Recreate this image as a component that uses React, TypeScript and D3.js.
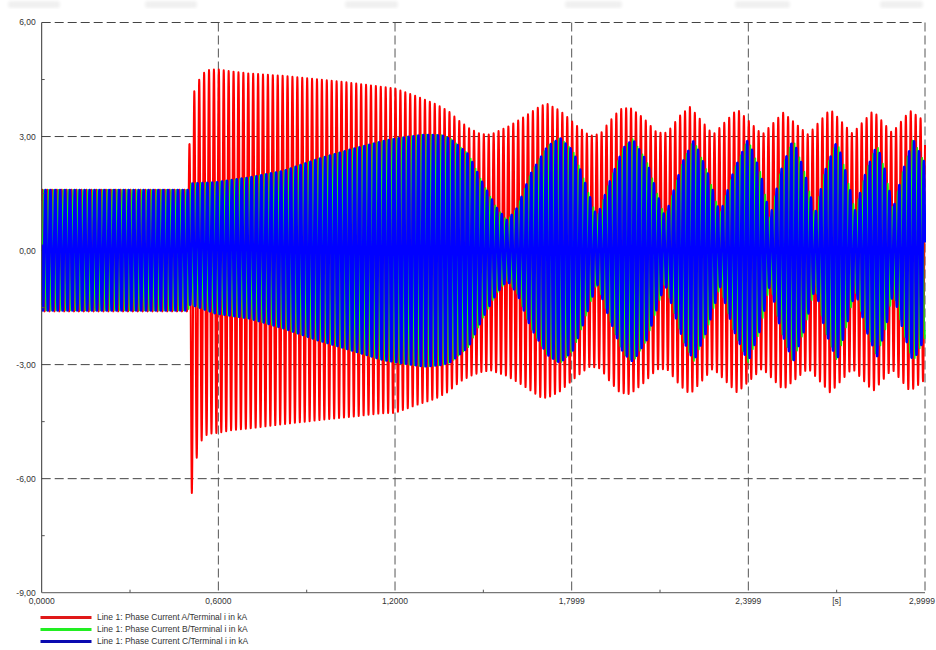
import React from "react";
import * as d3 from "d3";

const W = 936;
const H = 650;
const PLOT = { left: 41.7, right: 925, top: 22.5, bottom: 592.7 };

// axes
const yTicks = [6, 3, 0, -3, -6, -9];
const yTickLabels = ["6,00", "3,00", "0,00", "-3,00", "-6,00", "-9,00"];
const yMinor = [4.5, 1.5, -1.5, -4.5, -7.5];
const xTicks = [0, 0.6, 1.2, 1.8, 2.4, 3.0];
const xTickLabels = ["0,0000", "0,6000", "1,2000", "1,7999", "2,3999", "2,9999"];
const xMinor = [0.3, 0.9, 1.5, 2.1, 2.7];
const xUnitAt = 2.7;
const xUnitLabel = "[s]";

// series names / colours
const seriesNames = [
  "Line 1: Phase Current A/Terminal i in kA",
  "Line 1: Phase Current B/Terminal i in kA",
  "Line 1: Phase Current C/Terminal i in kA",
];
const seriesColors = ["#ff0000", "#11ee11", "#0000ff"];
const seriesWidths = [2.0, 1.5, 2.5];
const legendColors = ["#e01818", "#22ee22", "#0a0ab0"];

// 60 Hz carrier, phase reference (time of a phase-A peak, s)
const FREQ = 60;
const PEAK_REF_A = 0.5183;
const PHASE_SHIFT = [0, (-2 * Math.PI) / 3, (2 * Math.PI) / 3];

// Phase A envelopes (kA)
const envTimeA = [0, 0.495, 0.5016, 0.5095, 0.5183, 0.5266, 0.535, 0.543, 0.5516, 0.56, 0.57, 0.595, 0.65, 0.705, 0.816, 0.931, 1.043, 1.155, 1.2, 1.27, 1.336, 1.38, 1.42, 1.455, 1.49, 1.525, 1.581, 1.635, 1.693, 1.717, 1.761, 1.818, 1.862, 1.897, 1.93, 1.964, 1.998, 2.042, 2.09, 2.124, 2.168, 2.202, 2.28, 2.362, 2.447, 2.518, 2.603, 2.678, 2.753, 2.824, 2.888, 2.949, 3.0];
const envUpperA = [1.6, 1.6, 2.8, 3.6, 4.2, 4.35, 4.5, 4.6, 4.68, 4.72, 4.76, 4.77, 4.71, 4.66, 4.6, 4.51, 4.42, 4.31, 4.26, 4.07, 3.86, 3.68, 3.4, 3.2, 3.07, 3.05, 3.25, 3.5, 3.8, 3.86, 3.68, 3.28, 3.02, 3.07, 3.41, 3.72, 3.76, 3.5, 3.1, 3.1, 3.55, 3.78, 3.05, 3.72, 3.05, 3.63, 3.05, 3.72, 3.08, 3.68, 3.1, 3.68, 3.4];
const envLowerA = [-1.6, -1.6, -3.5, -6.4, -5.9, -5.45, -5.2, -5.0, -4.92, -4.85, -4.82, -4.8, -4.72, -4.68, -4.57, -4.47, -4.38, -4.28, -4.27, -4.07, -3.9, -3.72, -3.45, -3.3, -3.2, -3.15, -3.3, -3.55, -3.85, -3.88, -3.7, -3.3, -3.05, -3.1, -3.45, -3.74, -3.78, -3.5, -3.12, -3.12, -3.55, -3.78, -3.1, -3.74, -3.1, -3.66, -3.1, -3.74, -3.1, -3.7, -3.12, -3.7, -3.4];

// Phases B and C envelopes (kA)
const envTimeBC = [0, 0.497, 0.505, 0.59, 0.705, 0.82, 0.935, 1.05, 1.16, 1.22, 1.3, 1.36, 1.39, 1.45, 1.5, 1.545, 1.581, 1.615, 1.66, 1.718, 1.761, 1.805, 1.84, 1.886, 1.93, 1.975, 2.008, 2.055, 2.117, 2.178, 2.215, 2.26, 2.304, 2.35, 2.399, 2.44, 2.474, 2.51, 2.552, 2.59, 2.627, 2.66, 2.701, 2.73, 2.763, 2.8, 2.837, 2.865, 2.892, 2.925, 2.959, 3.0];
const envUpperBC = [1.6, 1.6, 1.77, 1.8, 1.93, 2.1, 2.41, 2.67, 2.89, 2.98, 3.06, 3.04, 2.94, 2.54, 1.75, 1.13, 0.79, 1.13, 2.02, 2.76, 2.97, 2.63, 1.92, 0.87, 1.84, 2.71, 2.94, 2.36, 0.87, 2.36, 2.92, 2.1, 0.95, 2.1, 2.94, 2.1, 0.87, 2.1, 2.94, 2.1, 0.95, 2.1, 2.9, 2.1, 1.05, 2.1, 2.8, 2.1, 1.1, 2.1, 2.94, 2.3];
const envLowerBC = [-1.58, -1.58, -1.42, -1.66, -1.79, -2.05, -2.36, -2.63, -2.89, -2.97, -3.06, -3.02, -2.94, -2.54, -1.75, -1.13, -0.79, -1.13, -2.02, -2.76, -2.97, -2.63, -1.92, -0.87, -1.84, -2.71, -2.94, -2.36, -0.87, -2.36, -2.92, -2.1, -0.95, -2.1, -2.94, -2.1, -0.87, -2.1, -2.94, -2.1, -0.95, -2.1, -2.9, -2.1, -1.05, -2.1, -2.8, -2.1, -1.1, -2.1, -2.94, -2.3];

const T_END = 3.0;
const SAMPLES_PER_CYCLE = 32;

function buildSeries(times: number[], upper: number[], lower: number[], shift: number) {
  const u = d3.scaleLinear().domain(times).range(upper).clamp(true);
  const l = d3.scaleLinear().domain(times).range(lower).clamp(true);
  const n = Math.round(T_END * FREQ * SAMPLES_PER_CYCLE);
  const pts: [number, number][] = [];
  for (let i = 0; i <= n; i++) {
    const t = (i / n) * T_END;
    const uu = u(t);
    const ll = l(t);
    const c = Math.cos(2 * Math.PI * FREQ * (t - PEAK_REF_A) + shift);
    pts.push([t, (uu + ll) / 2 + ((uu - ll) / 2) * c]);
  }
  return pts;
}

const topBlobs = [
  [8, 60],
  [145, 197],
  [345, 398],
  [565, 622],
  [735, 790],
  [880, 923],
];

export default function App() {
  const x = d3.scaleLinear().domain([0, 3.0]).range([PLOT.left, PLOT.right]);
  const y = d3.scaleLinear().domain([-9, 6]).range([PLOT.bottom, PLOT.top]);
  const line = d3
    .line<[number, number]>()
    .x((d) => x(d[0]))
    .y((d) => y(d[1]));

  const series = [
    buildSeries(envTimeA, envUpperA, envLowerA, PHASE_SHIFT[0]),
    buildSeries(envTimeBC, envUpperBC, envLowerBC, PHASE_SHIFT[1]),
    buildSeries(envTimeBC, envUpperBC, envLowerBC, PHASE_SHIFT[2]),
  ];

  const font = "'Liberation Sans', Arial, sans-serif";
  const dash = "9,4";

  return (
    <div style={{ position: "fixed", left: 0, top: 0 }}>
      <svg width={W} height={H} style={{ display: "block", background: "#fff" }}>
        <defs>
          <clipPath id="plotclip">
            <rect x={PLOT.left} y={PLOT.top - 1} width={PLOT.right - PLOT.left + 1} height={PLOT.bottom - PLOT.top + 1} />
          </clipPath>
          <filter id="blur">
            <feGaussianBlur stdDeviation="1.5" />
          </filter>
        </defs>
        {topBlobs.map((b, i) => (
          <rect key={i} x={b[0]} y={1} width={b[1] - b[0]} height={7} rx={3} fill="#f0f0f0" filter="url(#blur)" />
        ))}

        {/* grid */}
        {yTicks.filter((v) => v > -9).map((v) => (
          <line key={"gy" + v} x1={PLOT.left} x2={PLOT.right} y1={y(v)} y2={y(v)} stroke="#444" strokeWidth={1} strokeDasharray={dash} />
        ))}
        {xTicks.filter((v) => v > 0).map((v) => (
          <line key={"gx" + v} x1={x(v)} x2={x(v)} y1={PLOT.top} y2={PLOT.bottom} stroke="#555" strokeWidth={1} strokeDasharray={dash} />
        ))}

        {/* data */}
        <g clipPath="url(#plotclip)">
          {series.map((s, i) => (
            <path key={i} d={line(s) || ""} fill="none" stroke={seriesColors[i]} strokeWidth={seriesWidths[i]} strokeLinejoin="round" />
          ))}
        </g>

        {/* axes */}
        <line x1={PLOT.left} x2={PLOT.left} y1={PLOT.top} y2={PLOT.bottom} stroke="#333" strokeWidth={1} />
        <line x1={PLOT.left} x2={PLOT.right} y1={PLOT.bottom} y2={PLOT.bottom} stroke="#777" strokeWidth={1.2} />
        {yMinor.map((v) => (
          <line key={"my" + v} x1={PLOT.left} x2={PLOT.left + 3} y1={y(v)} y2={y(v)} stroke="#555" />
        ))}
        {xMinor.map((v) => (
          <line key={"mx" + v} x1={x(v)} x2={x(v)} y1={PLOT.bottom} y2={PLOT.bottom - 3} stroke="#555" />
        ))}
        {yTicks.map((v, i) => (
          <text key={"ly" + v} x={PLOT.left - 6} y={y(v)} dy="0.35em" textAnchor="end" fontFamily={font} fontSize={8.5} fill="#333">
            {yTickLabels[i]}
          </text>
        ))}
        {xTicks.map((v, i) => {
          const last = i === xTicks.length - 1;
          return (
            <text key={"lx" + v} x={last ? W - 1 : x(v)} y={PLOT.bottom + 11} textAnchor={last ? "end" : "middle"} fontFamily={font} fontSize={8.5} fill="#333">
              {xTickLabels[i]}
            </text>
          );
        })}
        <text x={x(xUnitAt)} y={PLOT.bottom + 11} textAnchor="middle" fontFamily={font} fontSize={8.5} fill="#333">
          {xUnitLabel}
        </text>

        {/* legend */}
        {seriesNames.map((name, i) => (
          <g key={name} transform={`translate(0, ${617.5 + i * 12})`}>
            <line x1={40.5} x2={91.5} y1={0} y2={0} stroke={legendColors[i]} strokeWidth={3} />
            <text x={97} y={0} dy="0.35em" fontFamily={font} fontSize={8.5} fill="#333">
              {name}
            </text>
          </g>
        ))}
      </svg>
    </div>
  );
}
